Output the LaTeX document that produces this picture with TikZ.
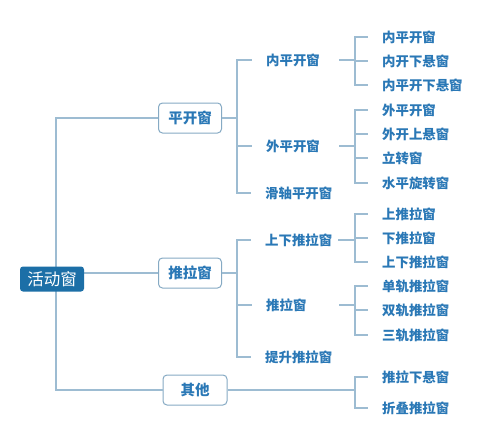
\documentclass[tikz,border=0pt]{standalone}
\usepackage{fontspec}
\newfontfamily\cjk{Noto Sans CJK SC}
\definecolor{txtblue}{HTML}{2A78B6}
\definecolor{lineblue}{HTML}{9DBCD2}
\definecolor{boxline}{HTML}{86AAC4}
\definecolor{rootfill}{HTML}{1C6FA7}
\begin{document}
\begin{tikzpicture}[x=1pt,y=-1pt,
  ln/.style={draw=lineblue,line width=1.1pt},
  rootbox/.style={fill=rootfill,rounded corners=3pt,minimum width=64pt,minimum height=25pt,inner sep=0pt,text=white,font=\cjk\fontsize{16.5}{16.5}\selectfont},
  catbox/.style={draw=boxline,line width=1pt,fill=white,rounded corners=4pt,minimum width=63pt,minimum height=30pt,inner sep=0pt,text=txtblue,font=\cjk\bfseries\fontsize{14.5}{14.5}\selectfont},
  subtxt/.style={anchor=west,inner sep=0pt,text width=73pt,align=left,minimum height=15pt,text=txtblue,font=\cjk\bfseries\fontsize{13.4}{13.4}\selectfont},
  leaftxt/.style={anchor=west,inner sep=0pt,minimum height=15pt,text=txtblue,font=\cjk\bfseries\fontsize{13.4}{13.4}\selectfont},
  tick/.style={ln,shorten >=14pt}]
\useasboundingbox[fill=white] (0,0) rectangle (500,439);

% level 1
\node[catbox] (pk) at (190,118) {平开窗};
\node[catbox] (tl) at (190,273) {推拉窗};
\node[catbox,minimum width=64pt] (qt) at (195,390) {其他};

% level 2
\node[subtxt] (npk) at (266,60) {内平开窗};
\node[subtxt] (wpk) at (266,146) {外平开窗};
\node[subtxt] (hz) at (265,193) {滑轴平开窗};
\node[subtxt] (sx) at (265,240) {上下推拉窗};
\node[subtxt] (tlc) at (266,305) {推拉窗};
\node[subtxt] (ts) at (265,357) {提升推拉窗};

% level 3
\node[leaftxt] (a1) at (382,37) {内平开窗};
\node[leaftxt] (a2) at (382,61) {内开下悬窗};
\node[leaftxt] (a3) at (382,85) {内平开下悬窗};
\node[leaftxt] (b1) at (382,110) {外平开窗};
\node[leaftxt] (b2) at (382,134) {外开上悬窗};
\node[leaftxt] (b3) at (382,158) {立转窗};
\node[leaftxt] (b4) at (382,183) {水平旋转窗};
\node[leaftxt] (c1) at (382,214) {上推拉窗};
\node[leaftxt] (c2) at (382,238) {下推拉窗};
\node[leaftxt] (c3) at (382,262) {上下推拉窗};
\node[leaftxt] (d1) at (382,286) {单轨推拉窗};
\node[leaftxt] (d2) at (382,310) {双轨推拉窗};
\node[leaftxt] (d3) at (382,335) {三轨推拉窗};
\node[leaftxt] (e1) at (382,377) {推拉下悬窗};
\node[leaftxt] (e2) at (382,408) {折叠推拉窗};

% junctions
\coordinate (jpk) at (237,118);
\coordinate (jtl) at (237,273);
\coordinate (jnpk) at (355,60);
\coordinate (jwpk) at (355,146);
\coordinate (jsx) at (355,240);
\coordinate (jtlc) at (355,305);
\coordinate (jqt) at (355,390);

% root connectors
\coordinate (rj) at (56,279);
\draw[ln] (rj) |- (pk.west);
\draw[ln] (rj) |- (tl.west);
\draw[ln] (rj) |- (qt.west);

% level1 -> level2
\draw[ln] (pk.east) -- (jpk);
\foreach \c in {npk,wpk,hz} \draw[tick] (jpk) |- (\c.west);
\draw[ln] (tl.east) -- (jtl);
\foreach \c in {sx,tlc,ts} \draw[tick] (jtl) |- (\c.west);

% level2 -> level3
\draw[ln] (npk.east) -- (jnpk);
\foreach \c in {a1,a2,a3} \draw[tick] (jnpk) |- (\c.west);
\draw[ln] (wpk.east) -- (jwpk);
\foreach \c in {b1,b2,b3,b4} \draw[tick] (jwpk) |- (\c.west);
\draw[ln] (sx.east) -- (jsx);
\foreach \c in {c1,c2,c3} \draw[tick] (jsx) |- (\c.west);
\draw[ln] (tlc.east) -- (jtlc);
\foreach \c in {d1,d2,d3} \draw[tick] (jtlc) |- (\c.west);
\draw[ln] (qt.east) -- (jqt);
\foreach \c in {e1,e2} \draw[tick] (jqt) |- (\c.west);

% root on top
\node[rootbox] (root) at (52,279) {活动窗};
\end{tikzpicture}
\end{document}
